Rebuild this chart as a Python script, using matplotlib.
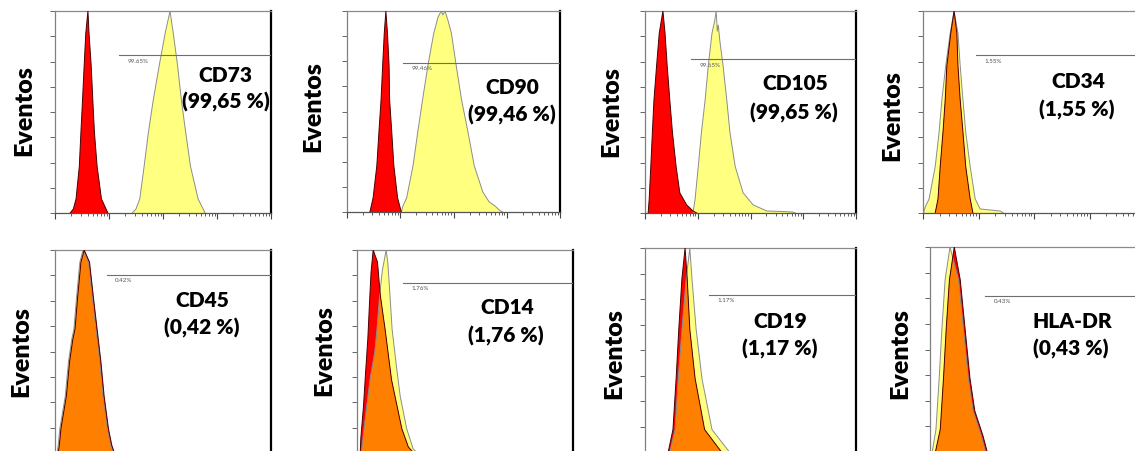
import matplotlib
matplotlib.use("Agg")
import matplotlib.pyplot as plt
from matplotlib.ticker import MultipleLocator, NullFormatter, LogLocator

plt.rcParams["font.family"] = ["Lato", "DejaVu Sans"]

W, H = 1135, 452

RED, YEL, ORANGE = "#ff0000", "#ffff80", "#ff8000"
RED_EDGE, YEL_EDGE = "#4a0000", "#8c8c8c"

# ── histogram outlines: x in log decades, y as fraction of the max ───────────
CD73_RED_X = [0.28, 0.34, 0.39, 0.45, 0.48, 0.51, 0.54, 0.57, 0.61, 0.63, 0.67, 0.70, 0.73, 0.78, 0.86, 0.98]
CD73_RED_Y = [0, 0.02, 0.07, 0.23, 0.40, 0.56, 0.73, 0.89, 1.0, 0.89, 0.73, 0.56, 0.40, 0.23, 0.07, 0]
CD73_YEL_X = [1.43, 1.50, 1.57, 1.65, 1.73, 1.82, 1.93, 2.04, 2.13, 2.19, 2.27, 2.34, 2.42, 2.51, 2.65, 2.78]
CD73_YEL_Y = [0, 0.02, 0.07, 0.23, 0.40, 0.56, 0.73, 0.89, 1.0, 0.89, 0.73, 0.56, 0.40, 0.23, 0.07, 0]

CD90_RED_X = [0.43, 0.49, 0.56, 0.60, 0.64, 0.67, 0.70, 0.73, 0.76, 0.79, 0.80, 0.84, 0.88, 0.95, 1.02]
CD90_RED_Y = [0, 0.07, 0.23, 0.40, 0.56, 0.73, 0.89, 1.0, 0.89, 0.73, 0.56, 0.40, 0.23, 0.07, 0]
CD90_YEL_X = [1.02, 1.05, 1.12, 1.24, 1.33, 1.42, 1.52, 1.63, 1.71, 1.77, 1.80, 1.84, 1.90, 1.96,
              2.05, 2.15, 2.27, 2.39, 2.55, 2.67, 2.78, 2.86, 2.92]
CD90_YEL_Y = [0, 0.03, 0.07, 0.23, 0.40, 0.56, 0.73, 0.89, 0.97, 1.0, 0.98, 1.0, 0.95, 0.89,
              0.73, 0.56, 0.40, 0.23, 0.10, 0.05, 0.03, 0.01, 0]

CD105_RED_X = [0.06, 0.08, 0.11, 0.14, 0.17, 0.22, 0.27, 0.34, 0.38, 0.42, 0.47, 0.52, 0.59, 0.66, 0.79, 0.91, 0.98]
CD105_RED_Y = [0, 0.07, 0.23, 0.40, 0.56, 0.73, 0.89, 1.0, 0.89, 0.73, 0.56, 0.40, 0.23, 0.10, 0.04, 0.01, 0]
CD105_YEL_X = [0.91, 0.95, 1.01, 1.07, 1.14, 1.20, 1.27, 1.32, 1.35, 1.37, 1.39, 1.42, 1.48, 1.55,
               1.61, 1.71, 1.86, 2.05, 2.31, 2.55, 2.80, 2.85]
CD105_YEL_Y = [0, 0.07, 0.23, 0.40, 0.56, 0.73, 0.89, 0.95, 1.0, 0.90, 0.93, 0.85, 0.73, 0.56,
               0.40, 0.23, 0.10, 0.04, 0.01, 0.008, 0.005, 0]

CD34_RED_X = [0.22, 0.27, 0.31, 0.36, 0.40, 0.43, 0.50, 0.56, 0.61, 0.63, 0.67, 0.72, 0.77, 0.85, 0.90]
CD34_RED_Y = [0, 0.07, 0.23, 0.40, 0.56, 0.73, 0.89, 1.0, 0.89, 0.73, 0.56, 0.40, 0.23, 0.07, 0]
CD34_YEL_X = [0.01, 0.04, 0.11, 0.22, 0.29, 0.34, 0.41, 0.49, 0.56, 0.63, 0.67, 0.72, 0.77, 0.85, 0.94, 1.03, 1.39, 1.45]
CD34_YEL_Y = [0, 0.03, 0.07, 0.23, 0.40, 0.56, 0.73, 0.89, 1.0, 0.89, 0.73, 0.56, 0.40, 0.23, 0.07, 0.02, 0.01, 0]

CD45_RED_X = [0.06, 0.08, 0.11, 0.21, 0.27, 0.33, 0.37, 0.42, 0.48, 0.54, 0.64, 0.71, 0.78, 0.85, 0.91, 0.99, 1.05, 1.10]
CD45_RED_Y = [0, 0.04, 0.12, 0.28, 0.45, 0.56, 0.61, 0.77, 0.94, 1.0, 0.94, 0.77, 0.61, 0.45, 0.28, 0.12, 0.04, 0]
CD45_YEL_X = [0.04, 0.06, 0.09, 0.19, 0.25, 0.31, 0.35, 0.40, 0.46, 0.52, 0.62, 0.69, 0.76, 0.83, 0.89, 0.97, 1.03, 1.08]
CD45_YEL_Y = [0, 0.04, 0.12, 0.28, 0.45, 0.56, 0.61, 0.77, 0.94, 1.0, 0.94, 0.77, 0.61, 0.45, 0.28, 0.12, 0.04, 0]

CD14_RED_X = [0.06, 0.07, 0.12, 0.16, 0.20, 0.23, 0.26, 0.30, 0.38, 0.43, 0.52, 0.64, 0.83, 0.95, 1.05]
CD14_RED_Y = [0, 0.07, 0.23, 0.40, 0.56, 0.73, 0.89, 1.0, 0.94, 0.78, 0.61, 0.36, 0.12, 0.03, 0]
CD14_YEL_X = [0.08, 0.13, 0.24, 0.33, 0.37, 0.42, 0.47, 0.54, 0.57, 0.61, 0.65, 0.72, 0.80, 0.92, 1.04, 1.12]
CD14_YEL_Y = [0, 0.12, 0.36, 0.50, 0.61, 0.78, 0.90, 1.0, 0.94, 0.78, 0.61, 0.45, 0.28, 0.12, 0.02, 0]

CD19_RED_X = [0.44, 0.53, 0.59, 0.64, 0.70, 0.76, 0.80, 0.85, 0.95, 1.13, 1.45]
CD19_RED_Y = [0, 0.11, 0.36, 0.60, 0.85, 1.0, 0.85, 0.60, 0.36, 0.11, 0]
CD19_YEL_X = [0.47, 0.57, 0.63, 0.70, 0.78, 0.85, 0.89, 0.97, 1.08, 1.27, 1.60]
CD19_YEL_Y = [0, 0.11, 0.36, 0.60, 0.85, 1.0, 0.85, 0.60, 0.36, 0.11, 0]

HLADR_RED_X = [0.10, 0.19, 0.25, 0.30, 0.36, 0.45, 0.56, 0.65, 0.74, 0.83, 0.98, 1.06]
HLADR_RED_Y = [0, 0.11, 0.36, 0.60, 0.84, 1.0, 0.84, 0.60, 0.36, 0.20, 0.08, 0]
HLADR_YEL_X = [0.04, 0.11, 0.17, 0.22, 0.28, 0.37, 0.53, 0.62, 0.71, 0.80, 0.95, 1.03]
HLADR_YEL_Y = [0, 0.11, 0.36, 0.60, 0.84, 1.0, 0.84, 0.60, 0.36, 0.20, 0.08, 0]

MARKERS   = ["CD73", "CD90", "CD105", "CD34", "CD45", "CD14", "CD19", "HLA-DR"]
PCT_LABEL = ["(99,65 %)", "(99,46 %)", "(99,65 %)", "(1,55 %)",
             "(0,42 %)", "(1,76 %)", "(1,17 %)", "(0,43 %)"]
PCT_GATE  = ["99.65%", "99.46%", "99.65%", "1.55%", "0.42%", "1.76%", "1.17%", "0.43%"]
GATE_X    = [1.19, 1.05, 0.87, 0.95, 0.96, 0.85, 1.21, 1.02]   # gate start, decades
GATE_Y    = [0.78, 0.74, 0.76, 0.78, 0.877, 0.837, 0.77, 0.76]

CURVES = [
    (CD73_RED_X, CD73_RED_Y, CD73_YEL_X, CD73_YEL_Y),
    (CD90_RED_X, CD90_RED_Y, CD90_YEL_X, CD90_YEL_Y),
    (CD105_RED_X, CD105_RED_Y, CD105_YEL_X, CD105_YEL_Y),
    (CD34_RED_X, CD34_RED_Y, CD34_YEL_X, CD34_YEL_Y),
    (CD45_RED_X, CD45_RED_Y, CD45_YEL_X, CD45_YEL_Y),
    (CD14_RED_X, CD14_RED_Y, CD14_YEL_X, CD14_YEL_Y),
    (CD19_RED_X, CD19_RED_Y, CD19_YEL_X, CD19_YEL_Y),
    (HLADR_RED_X, HLADR_RED_Y, HLADR_YEL_X, HLADR_YEL_Y),
]

# ── layout in pixels: axes box (l, t, r, b), "Eventos" centre, label centres ──
BOXES = [(55, 12, 271, 214), (347, 12, 560, 213), (645, 12, 856, 214), (923, 12, 1145, 214),
         (55, 251, 271, 454), (357, 251, 573, 454), (645, 249, 856, 453), (930, 248, 1146, 453)]
EVENTOS_XY = [(24, 111), (313, 107), (611, 112), (892, 116),
              (21, 352), (324, 351), (614, 354), (900, 354)]
NAME_XY = [(225, 75), (512, 87), (795, 84), (1078, 82),
           (202, 301), (507, 308), (780, 321), (1072, 321)]
PCT_XY = [(226, 102), (512, 115), (794, 113), (1077, 110),
          (202, 328), (506, 336), (780, 349), (1071, 349)]


def fx(x):
    return x / W


def fy(y):
    return 1 - y / H


fig = plt.figure(figsize=(W / 100, H / 100), dpi=100)

for i, (rx, ry, yx, yy) in enumerate(CURVES):
    l, t, r, b = BOXES[i]
    ax = fig.add_axes([fx(l), fy(b), (r - l) / W, (b - t) / H])
    ax.set_xscale("log")
    ax.set_xlim(1, 1e4)
    ax.set_ylim(0, 1)

    rxs = [10 ** d for d in rx]
    yxs = [10 ** d for d in yx]

    ax.fill(yxs, yy, facecolor=YEL, edgecolor="none", zorder=2)
    red_patch = ax.fill(rxs, ry, facecolor=RED, edgecolor="none", zorder=3)[0]
    # overlap of the two populations shows as orange
    over = ax.fill(yxs, yy, facecolor=ORANGE, edgecolor="none", zorder=4)[0]
    over.set_clip_path(red_patch)
    ax.plot(yxs, yy, color=YEL_EDGE, lw=0.7, zorder=5)
    ax.plot(rxs, ry, color=RED_EDGE, lw=0.7, zorder=6)

    # gate marker
    g = 10 ** GATE_X[i]
    ax.plot([g, 1e4], [GATE_Y[i], GATE_Y[i]], color="#6e6e6e", lw=0.8, zorder=7)
    ax.annotate(PCT_GATE[i], xy=(g, GATE_Y[i]), xytext=(6, -1.5), textcoords="offset points",
                fontsize=4.5, color="#555555", va="top", ha="left")

    ax.yaxis.set_major_locator(MultipleLocator(0.125))
    ax.xaxis.set_major_locator(LogLocator(base=10))
    ax.xaxis.set_minor_locator(LogLocator(base=10, subs=range(2, 10)))
    ax.xaxis.set_major_formatter(NullFormatter())
    ax.xaxis.set_minor_formatter(NullFormatter())
    ax.yaxis.set_major_formatter(NullFormatter())
    ax.tick_params(axis="y", which="both", direction="out", length=3.5, width=0.7, color="#666666")
    ax.tick_params(axis="x", which="major", direction="out", length=4.5, width=0.8, color="#444444")
    ax.tick_params(axis="x", which="minor", direction="out", length=2.5, width=0.6, color="#444444")

    ax.spines["left"].set_color("#808080")
    ax.spines["top"].set_color("#8a8a8a")
    ax.spines["bottom"].set_color("#555555")
    ax.spines["right"].set_color("#000000")
    ax.spines["right"].set_linewidth(1.6)
    for s in ("left", "top", "bottom"):
        ax.spines[s].set_linewidth(0.9)

    ex, ey = EVENTOS_XY[i]
    fig.text(fx(ex), fy(ey), "Eventos", rotation=90, ha="center", va="center",
             fontsize=18, fontweight="heavy")
    nx, ny = NAME_XY[i]
    fig.text(fx(nx), fy(ny), MARKERS[i], ha="center", va="center", fontsize=15, fontweight="heavy")
    px, py = PCT_XY[i]
    fig.text(fx(px), fy(py), PCT_LABEL[i], ha="center", va="center", fontsize=15, fontweight="heavy")

fig.savefig("out.png", dpi=100)
